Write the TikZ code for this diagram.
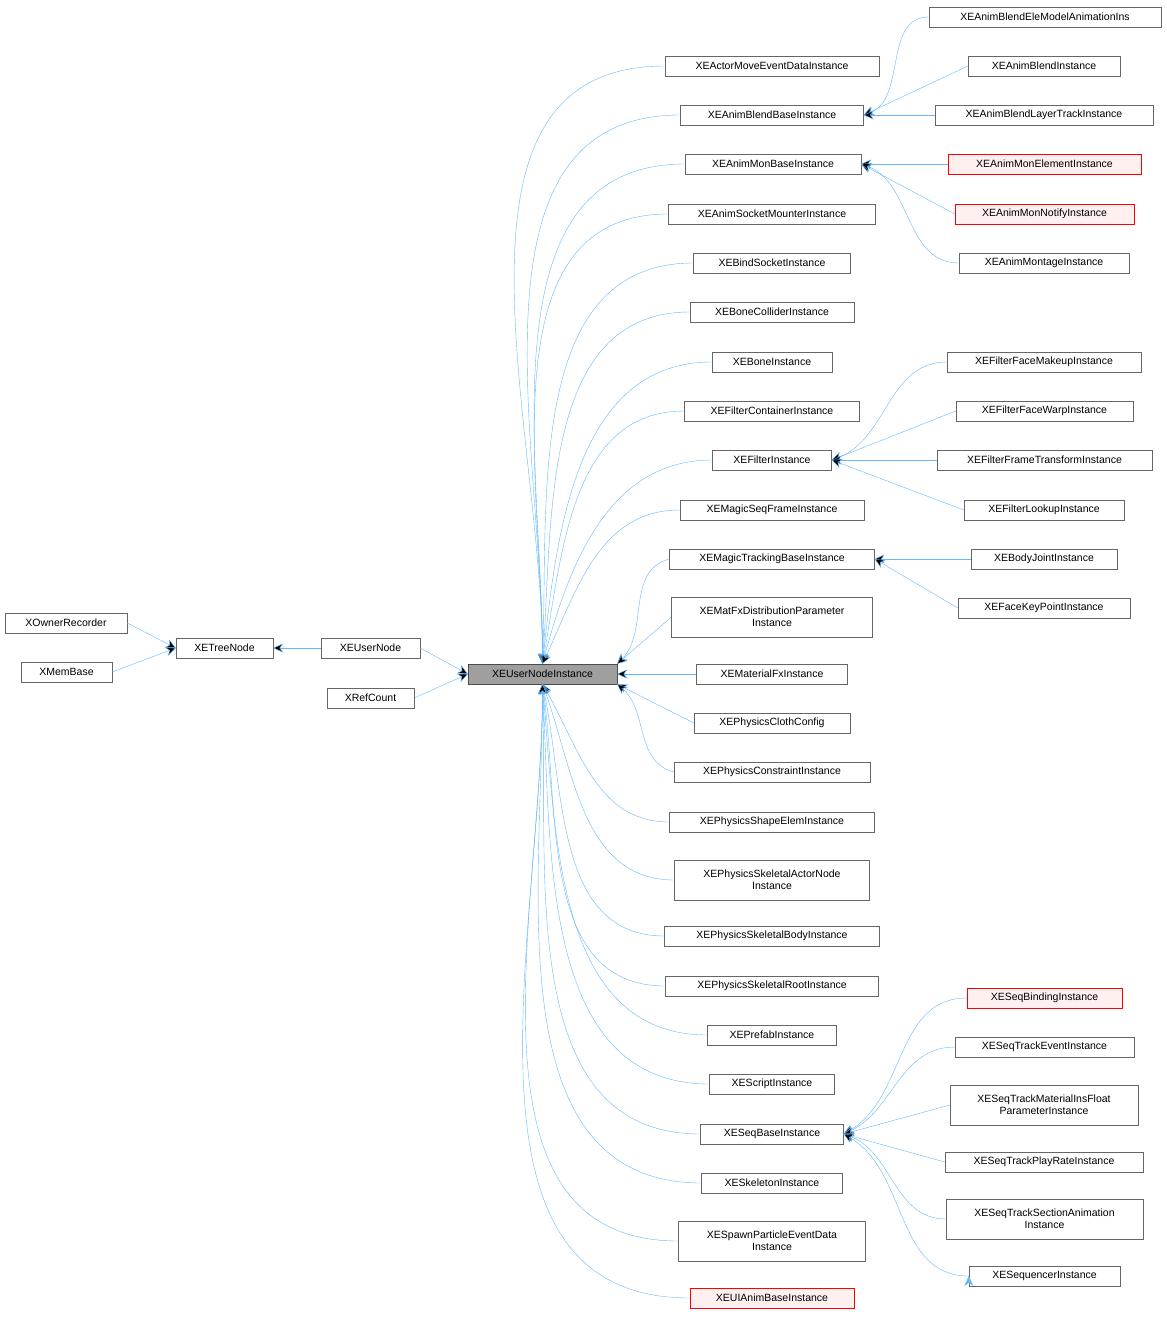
\documentclass[tikz,border=0pt]{standalone}
\usepackage{fontspec}
\setmainfont{Liberation Sans}
\usetikzlibrary{arrows.meta}
\definecolor{edgeblue}{HTML}{63B8FF}
\definecolor{boxgray}{HTML}{666666}
\definecolor{redfill}{HTML}{FFF0F0}
\tikzset{
  cls/.style={draw=boxgray,fill=white,inner sep=1pt,minimum height=20pt,align=center,
    font=\fontsize{10.5}{12}\selectfont},
  clsred/.style={cls,draw=red,fill=redfill},
  inh/.style={draw=edgeblue,->,>={Stealth[length=10pt,width=9pt]}}
}
\begin{document}
\begin{tikzpicture}[x=1pt,y=-1pt]
\useasboundingbox (0,0) rectangle (1167,1317);
% left part
\node[cls,minimum width=122] (OwnRec) at (66,623) {XOwnerRecorder};
\node[cls,minimum width=91] (MemBase) at (66.5,672) {XMemBase};
\node[cls,minimum width=97] (TreeNode) at (224.5,648) {XETreeNode};
\node[cls,minimum width=99] (UserNode) at (370.5,648) {XEUserNode};
\node[cls,minimum width=87] (RefCount) at (370.5,698) {XRefCount};
\node[cls,fill=gray!75,draw=black!70,minimum width=149] (UNI) at (542.5,674) {XEUserNodeInstance};
% middle column
\node[cls,minimum width=214] (ActorMove) at (772,66) {XEActorMoveEventDataInstance};
\node[cls,minimum width=183] (BlendBase) at (772,115) {XEAnimBlendBaseInstance};
\node[cls,minimum width=176] (MonBase) at (773,164) {XEAnimMonBaseInstance};
\node[cls,minimum width=207] (Socket) at (772,214) {XEAnimSocketMounterInstance};
\node[cls,minimum width=157] (BindSocket) at (772,263) {XEBindSocketInstance};
\node[cls,minimum width=164] (BoneColl) at (772,312) {XEBoneColliderInstance};
\node[cls,minimum width=120] (Bone) at (772,362) {XEBoneInstance};
\node[cls,minimum width=175] (FiltCont) at (772,411) {XEFilterContainerInstance};
\node[cls,minimum width=119] (Filter) at (772,460) {XEFilterInstance};
\node[cls,minimum width=184] (SeqFrame) at (772,510) {XEMagicSeqFrameInstance};
\node[cls,minimum width=205] (Tracking) at (772,559) {XEMagicTrackingBaseInstance};
\node[cls,minimum width=201,minimum height=40] (MatFx) at (772,617) {XEMatFxDistributionParameter\\Instance};
\node[cls,minimum width=151] (Material) at (772,674) {XEMaterialFxInstance};
\node[cls,minimum width=156] (Cloth) at (772,723) {XEPhysicsClothConfig};
\node[cls,minimum width=196] (Constr) at (772,772) {XEPhysicsConstraintInstance};
\node[cls,minimum width=205] (Shape) at (772,822) {XEPhysicsShapeElemInstance};
\node[cls,minimum width=195,minimum height=40] (SkActor) at (772,880) {XEPhysicsSkeletalActorNode\\Instance};
\node[cls,minimum width=215] (SkBody) at (772,936) {XEPhysicsSkeletalBodyInstance};
\node[cls,minimum width=213] (SkRoot) at (772,986) {XEPhysicsSkeletalRootInstance};
\node[cls,minimum width=129] (Prefab) at (772,1035) {XEPrefabInstance};
\node[cls,minimum width=125] (Script) at (772,1084) {XEScriptInstance};
\node[cls,minimum width=143] (SeqBase) at (772,1134) {XESeqBaseInstance};
\node[cls,minimum width=141] (Skeleton) at (772,1183) {XESkeletonInstance};
\node[cls,minimum width=187,minimum height=40] (Spawn) at (772,1241) {XESpawnParticleEventData\\Instance};
\node[clsred,minimum width=164] (UIAnim) at (772,1298) {XEUIAnimBaseInstance};
% right column
\node[cls,minimum width=232] (EleModel) at (1045,17) {XEAnimBlendEleModelAnimationIns};
\node[cls,minimum width=152] (Blend) at (1044,66) {XEAnimBlendInstance};
\node[cls,minimum width=218] (Layer) at (1044,115) {XEAnimBlendLayerTrackInstance};
\node[clsred,minimum width=193] (MonElem) at (1044.5,164) {XEAnimMonElementInstance};
\node[clsred,minimum width=179] (MonNotify) at (1044.5,214) {XEAnimMonNotifyInstance};
\node[cls,minimum width=170] (Montage) at (1044,263) {XEAnimMontageInstance};
\node[cls,minimum width=194] (Makeup) at (1044,362) {XEFilterFaceMakeupInstance};
\node[cls,minimum width=177] (Warp) at (1044.5,411) {XEFilterFaceWarpInstance};
\node[cls,minimum width=215] (Frame) at (1044.5,460) {XEFilterFrameTransformInstance};
\node[cls,minimum width=160] (Lookup) at (1044,510) {XEFilterLookupInstance};
\node[cls,minimum width=146] (Joint) at (1044,559) {XEBodyJointInstance};
\node[cls,minimum width=172] (FaceKey) at (1044,608) {XEFaceKeyPointInstance};
\node[clsred,minimum width=155] (Binding) at (1044.5,998) {XESeqBindingInstance};
\node[cls,minimum width=179] (TrEvent) at (1044.5,1047) {XESeqTrackEventInstance};
\node[cls,minimum width=188,minimum height=40] (TrMat) at (1044,1105) {XESeqTrackMaterialInsFloat\\ParameterInstance};
\node[cls,minimum width=198] (PlayRate) at (1044,1162) {XESeqTrackPlayRateInstance};
\node[cls,minimum width=197,minimum height=40] (SecAnim) at (1044.5,1219) {XESeqTrackSectionAnimation\\Instance};
\node[cls,minimum width=151] (Sequencer) at (1044.5,1276) {XESequencerInstance};
\draw[inh]
  (OwnRec.east) edge (TreeNode.west)
  (MemBase.east) edge (TreeNode.west)
  (UserNode.west) edge (TreeNode.east)
  (UserNode.east) edge (UNI.west)
  (RefCount.east) edge (UNI.west)
%
  (ActorMove.west) edge[out=180,in=90] (UNI.north)
  (BlendBase.west) edge[out=180,in=90] (UNI.north)
  (MonBase.west) edge[out=180,in=90] (UNI.north)
  (Socket.west) edge[out=180,in=90] (UNI.north)
  (BindSocket.west) edge[out=180,in=88] (UNI.north)
  (BoneColl.west) edge[out=180,in=86] (UNI.north)
  (Bone.west) edge[out=180,in=84] (UNI.north)
  (FiltCont.west) edge[out=180,in=80] (UNI.north)
  (Filter.west) edge[out=180,in=75] (UNI.north)
  (SeqFrame.west) edge[out=180,in=65] (UNI.north)
  (Tracking.west) edge[out=195,in=45] (UNI.north east)
  (MatFx.west) edge (UNI.north east)
  (Material.west) edge (UNI.east)
  (Cloth.west) edge (UNI.south east)
  (Constr.west) edge[out=165,in=-40] (UNI.south east)
  (Shape.west) edge[out=180,in=-60] (UNI.south)
  (SkActor.west) edge[out=180,in=-70] (UNI.south)
  (SkBody.west) edge[out=180,in=-78] (UNI.south)
  (SkRoot.west) edge[out=180,in=-82] (UNI.south)
  (Prefab.west) edge[out=180,in=-85] (UNI.south)
  (Script.west) edge[out=180,in=-87] (UNI.south)
  (SeqBase.west) edge[out=180,in=-88] (UNI.south)
  (Skeleton.west) edge[out=180,in=-90] (UNI.south)
  (Spawn.west) edge[out=180,in=-90] (UNI.south)
  (UIAnim.west) edge[out=180,in=-90] (UNI.south)
%
  (EleModel.west) edge[out=180,in=20] (BlendBase.east)
  (Blend.west) edge (BlendBase.east)
  (Layer.west) edge (BlendBase.east)
  (MonElem.west) edge (MonBase.east)
  (MonNotify.west) edge (MonBase.east)
  (Montage.west) edge[out=180,in=-20] (MonBase.east)
  (Makeup.west) edge[out=180,in=20] (Filter.east)
  (Warp.west) edge (Filter.east)
  (Frame.west) edge (Filter.east)
  (Lookup.west) edge (Filter.east)
  (Joint.west) edge (Tracking.east)
  (FaceKey.west) edge (Tracking.east)
  (Binding.west) edge[out=180,in=30] (SeqBase.east)
  (TrEvent.west) edge[out=180,in=25] (SeqBase.east)
  (TrMat.west) edge (SeqBase.east)
  (PlayRate.west) edge (SeqBase.east)
  (SecAnim.west) edge[out=180,in=-20] (SeqBase.east)
  (Sequencer.west) edge[out=180,in=-30] (SeqBase.east);
\end{tikzpicture}
\end{document}
